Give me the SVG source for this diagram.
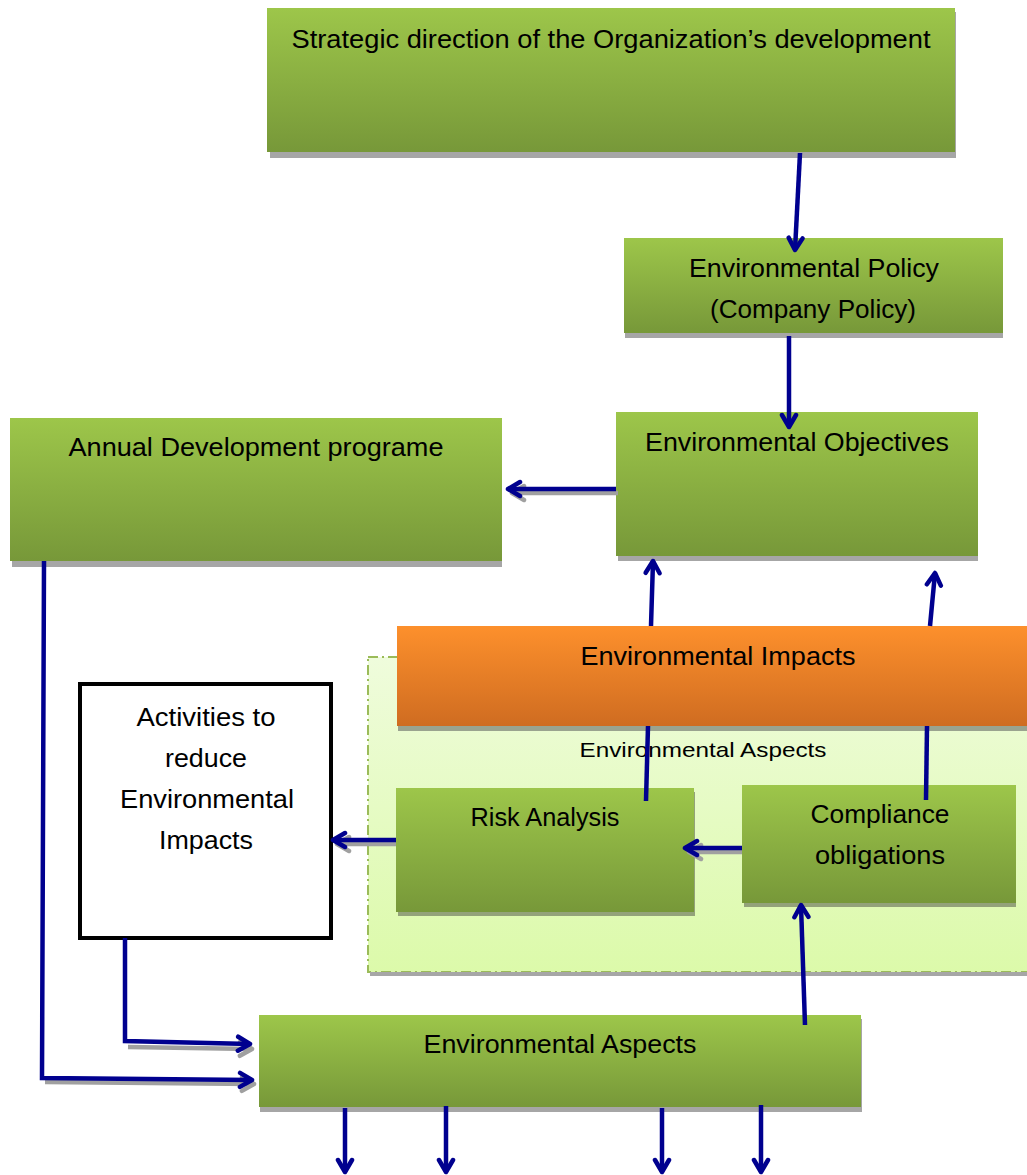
<svg xmlns="http://www.w3.org/2000/svg" width="1027" height="1175" viewBox="0 0 1027 1175">
<defs>
<linearGradient id="gGreen" x1="0" y1="0" x2="0" y2="1">
<stop offset="0" stop-color="#9dc64a"/>
<stop offset="1" stop-color="#779839"/>
</linearGradient>
<linearGradient id="gOrange" x1="0" y1="0" x2="0" y2="1">
<stop offset="0" stop-color="#fd902c"/>
<stop offset="1" stop-color="#cf6c21"/>
</linearGradient>
<linearGradient id="gLight" x1="0" y1="0" x2="0" y2="1">
<stop offset="0" stop-color="#effcdc"/>
<stop offset="1" stop-color="#dcfaaa"/>
</linearGradient>
<marker id="ah" viewBox="0 0 20 20" refX="16" refY="10" markerWidth="20" markerHeight="20" markerUnits="userSpaceOnUse" orient="auto">
<path d="M4,3 L16,10 L4,17" fill="none" stroke="#00008f" stroke-width="4.5" stroke-linecap="round" stroke-linejoin="round"/>
</marker>
<marker id="ahs" viewBox="0 0 20 20" refX="16" refY="10" markerWidth="20" markerHeight="20" markerUnits="userSpaceOnUse" orient="auto">
<path d="M4,3 L16,10 L4,17" fill="none" stroke="#a0a0a0" stroke-width="4.5" stroke-linecap="round" stroke-linejoin="round"/>
</marker>
</defs>
<style>
.box{fill:url(#gGreen);}
.sh{fill:#a6a6a6;}
.t{font-family:"Liberation Sans",Arial,sans-serif;font-size:25px;fill:#000;text-anchor:middle;}
.ln{fill:none;stroke:#00008f;stroke-width:4.5;}
.lns{fill:none;stroke:#a0a0a0;stroke-width:4.5;}
</style>

<g id="container">
<rect x="368" y="657" width="664" height="315" fill="url(#gLight)" stroke="#9bbb59" stroke-width="2" stroke-dasharray="10,4,2,4"/>
<rect x="370" y="972" width="660" height="4" fill="#a6a6a6"/>
<text class="t" x="703" y="757" style="font-size:21px" textLength="247" lengthAdjust="spacingAndGlyphs">Environmental Aspects</text>
</g>

<g id="strategic">
<rect class="sh" x="270" y="12" width="686" height="146"/>
<rect class="box" x="267" y="8" width="688" height="144"/>
<text class="t" x="611" y="48" textLength="639" lengthAdjust="spacingAndGlyphs">Strategic direction of the Organization’s development</text>
</g>

<g id="policy">
<rect class="sh" x="625" y="242" width="378" height="96"/>
<rect class="box" x="624" y="238" width="379" height="95"/>
<text class="t" x="814" y="277" textLength="250" lengthAdjust="spacingAndGlyphs">Environmental Policy</text>
<text class="t" x="813" y="318" textLength="206" lengthAdjust="spacingAndGlyphs">(Company Policy)</text>
</g>

<g id="objectives">
<rect class="sh" x="618" y="416" width="360" height="145"/>
<rect class="box" x="616" y="412" width="362" height="144"/>
<text class="t" x="797" y="451" textLength="304" lengthAdjust="spacingAndGlyphs">Environmental Objectives</text>
</g>

<g id="annual">
<rect class="sh" x="12" y="422" width="490" height="145"/>
<rect class="box" x="10" y="418" width="492" height="143"/>
<text class="t" x="256" y="456" textLength="375" lengthAdjust="spacingAndGlyphs">Annual Development programe</text>
</g>

<g id="impacts">
<rect x="398" y="630" width="629" height="101" fill="#9aa38f"/>
<rect x="397" y="626" width="630" height="100" fill="url(#gOrange)"/>
<text class="t" x="718" y="665" textLength="275" lengthAdjust="spacingAndGlyphs">Environmental Impacts</text>
</g>

<g id="risk">
<rect x="398" y="792" width="297" height="124" fill="#93a27a"/>
<rect class="box" x="396" y="788" width="298" height="124"/>
<text class="t" x="545" y="826" textLength="149" lengthAdjust="spacingAndGlyphs">Risk Analysis</text>
</g>

<g id="compliance">
<rect x="744" y="789" width="272" height="118" fill="#93a27a"/>
<rect class="box" x="742" y="785" width="274" height="118"/>
<text class="t" x="880" y="823" textLength="139" lengthAdjust="spacingAndGlyphs">Compliance</text>
<text class="t" x="880" y="864" textLength="130" lengthAdjust="spacingAndGlyphs">obligations</text>
</g>

<g id="activities">
<rect x="80" y="684" width="251" height="254" fill="#fff" stroke="#000" stroke-width="4"/>
<text class="t" x="206" y="726" textLength="139" lengthAdjust="spacingAndGlyphs">Activities to</text>
<text class="t" x="206" y="767" textLength="82" lengthAdjust="spacingAndGlyphs">reduce</text>
<text class="t" x="207" y="808" textLength="174" lengthAdjust="spacingAndGlyphs">Environmental</text>
<text class="t" x="206" y="849" textLength="94" lengthAdjust="spacingAndGlyphs">Impacts</text>
</g>

<g id="aspects">
<rect class="sh" x="260" y="1019" width="602" height="93"/>
<rect class="box" x="259" y="1015" width="602" height="92"/>
<text class="t" x="560" y="1053" textLength="273" lengthAdjust="spacingAndGlyphs">Environmental Aspects</text>
</g>

<g id="connectors">
<!-- shadows -->
<path class="lns" d="M618,493 L512,493" marker-end="url(#ahs)"/>
<path class="lns" d="M396,844 L337,844" marker-end="url(#ahs)"/>
<path class="lns" d="M742,852 L689,852" marker-end="url(#ahs)"/>
<path class="lns" d="M128,1047 L252,1049" marker-end="url(#ahs)"/>
<path class="lns" d="M45,1082 L254,1084" marker-end="url(#ahs)"/>
<!-- main -->
<path class="ln" d="M800,153 L795,250" marker-end="url(#ah)"/>
<path class="ln" d="M789,336 L789,427" marker-end="url(#ah)"/>
<path class="ln" d="M616,489 L508,489" marker-end="url(#ah)"/>
<path class="ln" d="M651,626 L653,561" marker-end="url(#ah)"/>
<path class="ln" d="M930,626 L935,573" marker-end="url(#ah)"/>
<path class="ln" d="M648,726 L646,801"/>
<path class="ln" d="M927,726 L926,800"/>
<path class="ln" d="M742,848 L685,848" marker-end="url(#ah)"/>
<path class="ln" d="M396,840 L333,840" marker-end="url(#ah)"/>
<path class="ln" d="M805,1025 L801,905" marker-end="url(#ah)"/>
<path class="ln" d="M125,938 L125,1041 L250,1044" marker-end="url(#ah)"/>
<path class="ln" d="M44,561 L42,1078 L252,1080" marker-end="url(#ah)"/>
<path class="ln" d="M345,1108 L345,1172" marker-end="url(#ah)"/>
<path class="ln" d="M446,1106 L446,1172" marker-end="url(#ah)"/>
<path class="ln" d="M662,1108 L662,1172" marker-end="url(#ah)"/>
<path class="ln" d="M761,1105 L761,1172" marker-end="url(#ah)"/>
</g>
</svg>
